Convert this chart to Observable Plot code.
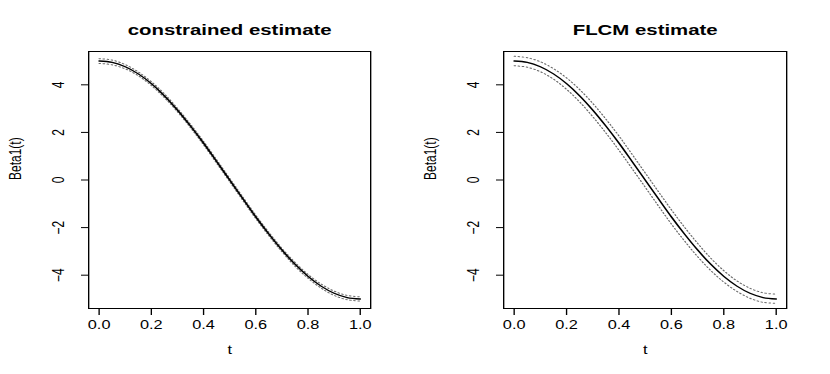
<!DOCTYPE html>
<html>
<head>
<meta charset="utf-8">
<script src="https://cdn.jsdelivr.net/npm/d3@7"></script>
<script src="https://cdn.jsdelivr.net/npm/@observablehq/plot@0.6"></script>
<style>
  html, body { margin: 0; padding: 0; background: #fff; }
  #wrap { display: flex; flex-direction: row; width: 830px; height: 374px; }
</style>
</head>
<body>
<div id="wrap"></div>
<script>
// ---- data ----
const tValues = [0, 0.05, 0.10, 0.15, 0.20, 0.25, 0.30, 0.35, 0.40, 0.45, 0.50,
                 0.55, 0.60, 0.65, 0.70, 0.75, 0.80, 0.85, 0.90, 0.95, 1.00];

const constrainedEst = [5.00, 4.94, 4.76, 4.46, 4.05, 3.54, 2.94, 2.27, 1.55, 0.78, 0.00,
                        -0.78, -1.55, -2.27, -2.94, -3.54, -4.05, -4.46, -4.76, -4.94, -5.00];
const constrainedUpper = [5.10, 5.04, 4.85, 4.54, 4.13, 3.62, 3.01, 2.34, 1.62, 0.85, 0.07,
                          -0.71, -1.48, -2.20, -2.87, -3.46, -3.97, -4.37, -4.67, -4.85, -4.91];
const constrainedLower = [4.90, 4.84, 4.67, 4.38, 3.97, 3.46, 2.87, 2.20, 1.48, 0.71, -0.07,
                          -0.85, -1.62, -2.34, -3.01, -3.62, -4.13, -4.54, -4.85, -5.03, -5.09];

const flcmEst = [5.00, 4.94, 4.76, 4.46, 4.05, 3.54, 2.94, 2.27, 1.55, 0.78, 0.00,
                 -0.78, -1.55, -2.27, -2.94, -3.54, -4.05, -4.46, -4.76, -4.94, -5.00];
const flcmUpper = [5.20, 5.14, 4.97, 4.68, 4.29, 3.80, 3.22, 2.56, 1.85, 1.08, 0.30,
                   -0.48, -1.25, -1.98, -2.66, -3.28, -3.81, -4.24, -4.55, -4.74, -4.80];
const flcmLower = [4.80, 4.74, 4.55, 4.24, 3.81, 3.28, 2.66, 1.98, 1.25, 0.48, -0.30,
                   -1.08, -1.85, -2.56, -3.22, -3.80, -4.29, -4.68, -4.97, -5.14, -5.18];

const panelTitles = ["constrained estimate", "FLCM estimate"];
const xTicks = [0, 0.2, 0.4, 0.6, 0.8, 1.0];
const yTicks = [-4, -2, 0, 2, 4];
const xLabel = "t";
const yLabel = "Beta1(t)";

// ---- drawing ----
const S = 1.36;           // horizontal stretch of the original raster
const PW = 415, PH = 374; // physical panel size
const FONT = "'Liberation Sans', Arial, Helvetica, sans-serif";
const fmtY = d => String(d).replace("-", "\u2212");

function panel(title, est, upper, lower, mLeft, mRight) {
  const rows = tValues.map((t, i) => ({t, est: est[i], up: upper[i], lo: lower[i]}));
  const dotted = {x: "t", curve: "catmull-rom", stroke: "#6a6a6a", strokeWidth: 1, strokeDasharray: "1,2"};
  const svg = Plot.plot({
    width: PW / S,
    height: PH,
    marginLeft: mLeft / S,
    marginRight: mRight / S,
    marginTop: 51,
    marginBottom: 66,
    style: {fontFamily: FONT, fontSize: "12px", background: "#fff", color: "#000"},
    x: {domain: [-0.04, 1.04]},
    y: {domain: [-5.4, 5.4]},
    marks: [
      Plot.frame({stroke: "#000", strokeWidth: 1}),
      Plot.axisX({ticks: xTicks, tickSize: 7, tickFormat: () => "", label: null, stroke: "#000"}),
      Plot.axisY({ticks: yTicks, tickSize: 7 / S, tickFormat: () => "", label: null, stroke: "#000"}),
      Plot.text(xTicks, {x: d => d, frameAnchor: "bottom", dy: 20, text: d => d3.format(".1f")(d),
                         fontSize: 12, fill: "#000"}),
      Plot.text(yTicks, {y: d => d, frameAnchor: "left", dx: -30 / S, rotate: -90, text: fmtY,
                         fontSize: 12, fill: "#000", textAnchor: "middle"}),
      Plot.text([xLabel], {frameAnchor: "bottom", dy: 45, text: d => d, fontSize: 12, fill: "#000"}),
      Plot.text([yLabel], {frameAnchor: "left", dx: -73 / S, rotate: -90, text: d => d, fontSize: 12, fill: "#000"}),
      Plot.text([title], {frameAnchor: "top", dy: -27, text: d => d, fontSize: 15, fontWeight: "bold", fill: "#000"}),
      Plot.line(rows, {...dotted, y: "up"}),
      Plot.line(rows, {...dotted, y: "lo"}),
      Plot.line(rows, {x: "t", y: "est", curve: "catmull-rom", stroke: "#000", strokeWidth: 1.3})
    ]
  });
  svg.setAttribute("width", PW);
  svg.setAttribute("height", PH);
  svg.setAttribute("preserveAspectRatio", "none");
  svg.style.width = PW + "px";
  svg.style.height = PH + "px";
  svg.style.maxWidth = "none";
  svg.style.display = "block";
  return svg;
}

const wrap = document.getElementById("wrap");
wrap.appendChild(panel(panelTitles[0], constrainedEst, constrainedUpper, constrainedLower, 88, 45));
wrap.appendChild(panel(panelTitles[1], flcmEst, flcmUpper, flcmLower, 88, 44));
</script>
</body>
</html>
